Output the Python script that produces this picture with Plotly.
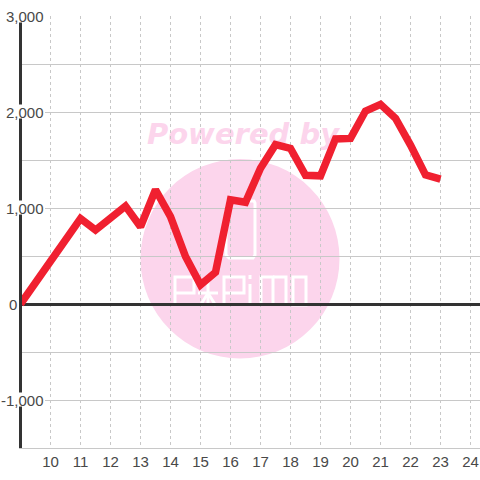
import plotly.graph_objects as go

hours = [9, 9.5, 10, 10.5, 11, 11.5, 12, 12.5, 13, 13.5, 14, 14.5, 15, 15.5, 16, 16.5,
         17, 17.5, 18, 18.5, 19, 19.5, 20, 20.5, 21, 21.5, 22, 22.5, 23]
values = [0, 225, 456, 680, 890, 770, 895, 1020, 805, 1190, 910, 495, 200, 330, 1085, 1060,
          1415, 1660, 1620, 1340, 1335, 1720, 1725, 2010, 2080, 1935, 1655, 1345, 1300]
x_ticks = list(range(10, 25))
y_ticks = [3000, 2000, 1000, 0, -1000]
y_labels = ["3,000", "2,000", "1,000", "0", "-1,000"]

W, H = 480, 480
L, R, T, B = 22, 0, 16, 32
PINK = "#fcd5ec"
GRID = "#c8c8c8"
DARK = "#333333"
TEXT = "#484848"
FONT = "Liberation Sans, Arial, sans-serif"


def px(x):
    return (x - L) / (W - L - R)


def py(y):
    return 1 - (y - T) / (H - T - B)


def path(points, closed=False):
    s = " ".join(("M" if i == 0 else "L") + f"{px(a):.5f},{py(b):.5f}" for i, (a, b) in enumerate(points))
    return s + (" Z" if closed else "")


logo_paths = [
    # phone outline
    [(228, 201), (254, 201), (255, 203), (255, 255), (253, 258), (229, 258), (226, 255), (226, 212)],
    # P
    [(175, 305), (175, 277), (194, 277), (194, 293), (175, 293)],
    # A
    [(198, 293), (218, 293)],
    [(208, 276), (208, 306)],
    [(200, 306), (208, 293), (216, 306)],
    # P
    [(224, 305), (224, 277), (244, 277), (244, 293), (224, 293)],
    # i
    [(250, 284), (250, 305)],
    [(250, 275), (250, 279)],
    # M
    [(261, 305), (261, 277), (273, 277), (273, 305)],
    [(273, 277), (286, 277), (286, 305)],
    # O
    [(293, 277), (306, 277), (306, 305), (293, 305)],
]

shapes = [
    dict(type="circle", xref="paper", yref="paper", x0=px(140.5), x1=px(339.5), y0=py(358.5), y1=py(159),
         fillcolor=PINK, line_width=0, layer="below"),
    dict(type="rect", xref="paper", yref="paper", x0=px(147.5), x1=px(338.5), y0=py(147), y1=py(117),
         fillcolor="rgba(0,0,0,0)", line_width=0, layer="below",
         label=dict(text="<b><i>Powered by</i></b>", textposition="middle center",
                    font=dict(family="DejaVu Sans", size=29, color=PINK))),
]
for i, pts in enumerate(logo_paths):
    shapes.append(dict(type="path", xref="paper", yref="paper", layer="below",
                       path=path(pts, closed=(i == len(logo_paths) - 1 or i == 0)),
                       line=dict(color="white", width=3), fillcolor="rgba(0,0,0,0)"))

annotations = []
for v, t in zip(y_ticks, y_labels):
    right = 16.5 if v == 0 else 43.5
    annotations.append(dict(xref="paper", yref="y", x=px(right), y=v, text=t, showarrow=False,
                            xanchor="right", yanchor="middle", borderpad=0, borderwidth=0,
                            font=dict(family=FONT, size=15, color=TEXT)))
    if v != 0:
        shapes.append(dict(type="rect", xref="paper", yref="y", x0=px(0), x1=px(45),
                           ysizemode="pixel", yanchor=v, y0=-6.5, y1=7.5,
                           fillcolor="white", line_width=0, layer="above"))

fig = go.Figure(go.Scatter(x=hours, y=values, mode="lines",
                           line=dict(color="#f02030", width=7.5, shape="linear"),
                           hoverinfo="skip", cliponaxis=False))
fig.update_layout(
    width=W, height=H, autosize=False,
    margin=dict(l=L, r=R, t=T, b=B, pad=0),
    paper_bgcolor="white", plot_bgcolor="rgba(0,0,0,0)",
    showlegend=False, shapes=shapes, annotations=annotations,
    xaxis=dict(range=[9.05, 24.3167], tickmode="array", tickvals=x_ticks,
               ticktext=[str(t) for t in x_ticks], ticks="", showgrid=True,
               gridcolor=GRID, griddash="3px,3px", gridwidth=1, zeroline=False,
               showline=True, linecolor=GRID, linewidth=1,
               tickfont=dict(family=FONT, size=15, color=TEXT), automargin=False),
    yaxis=dict(range=[-1500, 3000], tickmode="linear", tick0=0, dtick=500, ticks="",
               showticklabels=False, showgrid=True, gridcolor=GRID, gridwidth=1,
               zeroline=True, zerolinecolor=DARK, zerolinewidth=3,
               showline=True, linecolor=DARK, linewidth=3, automargin=False),
)
fig.write_html("out.html", config=dict(displayModeBar=False),
               post_script="document.body.style.margin='0';document.documentElement.style.overflow='hidden';")
